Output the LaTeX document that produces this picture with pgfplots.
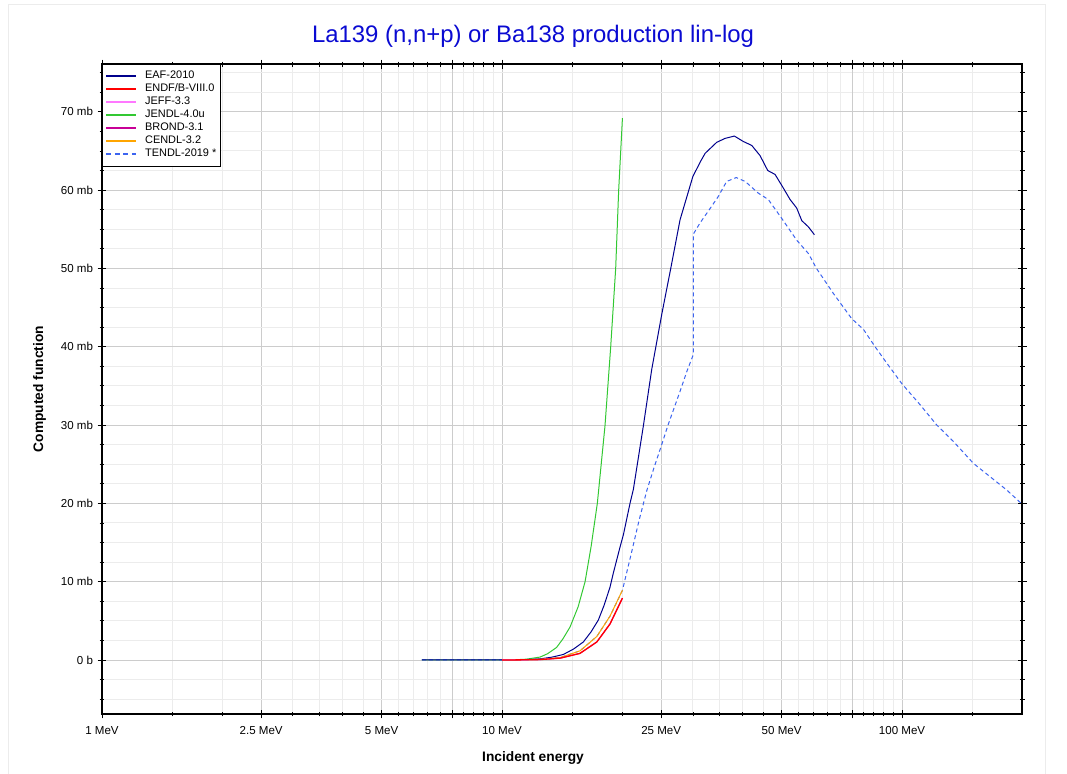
\documentclass[border=0pt]{standalone}
\usepackage{pgfplots}
\pgfplotsset{compat=1.18}
\usepackage{fontspec}
\setmainfont{Liberation Sans}
\definecolor{eafc}{RGB}{0,0,140}
\definecolor{endfc}{RGB}{255,0,0}
\definecolor{jeffc}{RGB}{255,120,255}
\definecolor{jendlc}{RGB}{50,200,50}
\definecolor{brondc}{RGB}{200,0,150}
\definecolor{cendlc}{RGB}{255,165,0}
\definecolor{tendlc}{RGB}{60,100,240}
\definecolor{titlec}{RGB}{10,10,210}
\definecolor{majgrid}{RGB}{204,204,204}
\definecolor{mingrid}{RGB}{236,236,236}
\begin{document}
\begin{tikzpicture}
\useasboundingbox (0,0) rectangle (1067bp,774bp);
\draw[color=mingrid, line width=1bp] (8bp,0bp) -- (8bp,769bp) -- (1045bp,769bp) -- (1045bp,0bp);
\begin{axis}[
  at={(102bp,60bp)}, anchor=south west,
  width=920bp, height=650bp, scale only axis,
  xmode=log, log basis x=10,
  xmin=1, xmax=199.5, ymin=-6.9, ymax=76.1,
  axis line style={black, line width=1.1bp},
  xtick={1,2.5,5,10,25,50,100},
  xticklabels={1 MeV,2.5 MeV,5 MeV,10 MeV,25 MeV,50 MeV,100 MeV},
  extra x ticks={7.5,75},
  extra x tick labels={},
  extra x tick style={grid=major, major grid style={color=majgrid, line width=0.9bp}},
  minor xtick={1.5,2,3,3.5,4,4.5,5.5,6,6.5,7,8,8.5,9,9.5,15,20,30,35,40,45,55,60,65,70,80,85,90,95,150,200},
  ytick={0,10,20,30,40,50,60,70},
  yticklabels={0 b,10 mb,20 mb,30 mb,40 mb,50 mb,60 mb,70 mb},
  minor ytick={-5,-2.5,2.5,5,7.5,12.5,15,17.5,22.5,25,27.5,32.5,35,37.5,42.5,45,47.5,52.5,55,57.5,62.5,65,67.5,72.5,75},
  grid=both,
  major grid style={color=majgrid, line width=0.9bp},
  minor grid style={color=mingrid, line width=0.9bp},
  tick align=center,
  major tick length=9bp, minor tick length=5bp,
  tick style={black, line width=0.8bp},
  ticklabel style={font=\fontsize{11.6}{13}\selectfont},
  xticklabel style={anchor=base, yshift=-16bp},
  yticklabel style={anchor=east, xshift=-1bp},
  title={La139 (n,n+p) or Ba138 production lin-log},
  title style={at={(0.4685,1.0246)}, anchor=base, font=\fontsize{24}{27}\selectfont, color=titlec},
  xlabel={\bfseries Incident energy},
  xlabel style={at={(0.4685,-0.0738)}, anchor=base, font=\fontsize{13.8}{16}\selectfont},
  ylabel={\bfseries Computed function},
  ylabel style={at={(-0.0641,0.5)}, anchor=base, font=\fontsize{13.8}{16}\selectfont},
  legend style={at={(0,1)}, anchor=north west, draw=black, line width=0.8bp,
    font=\fontsize{11}{12}\selectfont, fill=white,
    nodes={inner sep=1.25bp, text height=8bp, text depth=2.5bp},
    row sep=0bp, inner xsep=3bp, inner ysep=5.3bp},
  legend cell align=left,
  legend image code/.code={\draw[#1, line width=2.1bp] (0bp,0bp) -- (30bp,0bp); \path (37bp,0bp);},
]
\addlegendimage{eafc}
\addlegendentry{EAF-2010}
\addlegendimage{endfc}
\addlegendentry{ENDF/B-VIII.0}
\addlegendimage{jeffc}
\addlegendentry{JEFF-3.3}
\addlegendimage{jendlc}
\addlegendentry{JENDL-4.0u}
\addlegendimage{brondc}
\addlegendentry{BROND-3.1}
\addlegendimage{cendlc}
\addlegendentry{CENDL-3.2}
\addlegendimage{tendlc, dash pattern=on 5bp off 3.5bp}
\addlegendentry{TENDL-2019 *}

% JENDL-4.0u
\addplot[jendlc, line width=1bp, forget plot] coordinates {
(6.3,0) (8,0) (10,0.003) (11.0,0.05) (11.5,0.1) (12.45,0.37) (13.0,0.8) (13.69,1.6) (14.2,2.7) (14.79,4.2) (15.5,6.8) (16.13,10.0) (16.7,14.5) (17.31,20.0) (18.09,29.9) (18.69,39.9) (19.24,50.0) (19.57,59.9) (20.0,69.2)
};
% TENDL-2019
\addplot[tendlc, line width=1bp, dash pattern=on 4bp off 3bp, forget plot] coordinates {
(6.3,0) (8,0) (10,0.005) (12,0.08) (13.97,0.3) (15.66,1.16) (17.26,3.0) (18.62,5.6) (20.0,8.9) (21.0,13.4) (22.0,17.8) (23.0,21.6) (24.0,24.6) (25.0,27.3) (26.0,30.0) (27.86,34.3) (29.0,36.9) (30.08,39.0) (30.09,54.4) (31.26,55.8) (32.97,57.5) (34.74,59.2) (36.43,61.1) (38.51,61.6) (40.55,61.1) (43.74,59.6) (46.3,58.8) (50.0,56.4) (54.54,53.6) (58.33,51.9) (61.1,50.0) (67.35,46.8) (74.8,43.6) (80.1,42.2) (85.6,40.0) (91.6,37.9) (99.8,35.3) (110.9,32.6) (122.1,30.0) (134.4,27.9) (150.8,25.1) (166,23.4) (182.7,21.7) (199.5,19.9)
};
% EAF-2010
\addplot[eafc, line width=1bp, forget plot] coordinates {
(6.3,0) (8,0) (10,0.005) (11.5,0.04) (12.45,0.14) (13.3,0.35) (14.23,0.7) (15.1,1.4) (15.97,2.3) (16.7,3.6) (17.41,5.1) (18.0,7.0) (18.62,9.3) (18.98,11.1) (19.72,14.4) (20.11,16.0) (20.89,20.0) (21.3,21.8) (22.56,29.9) (23.67,37.1) (25.07,44.1) (26.41,50.0) (27.86,56.2) (29.98,61.7) (31.3,63.6) (32.2,64.7) (34.41,66.1) (36.1,66.6) (38.09,66.9) (40.12,66.2) (42.1,65.7) (44.16,64.4) (46.15,62.5) (48.14,62.0) (50.3,60.4) (52.48,58.8) (54.54,57.7) (56.14,56.1) (58.33,55.3) (60.38,54.3)
};
% CENDL-3.2
\addplot[cendlc, line width=1bp, forget plot] coordinates {
(10,0) (11,0.02) (12.45,0.08) (13.97,0.3) (15.66,1.16) (17.26,3.0) (18.62,5.6) (20,8.9)
};
% BROND-3.1
\addplot[brondc, line width=1bp, forget plot] coordinates {
(10,0) (11,0.01) (12.45,0.05) (13.97,0.23) (15.66,0.84) (17.26,2.3) (18.62,4.6) (20,7.9)
};
% JEFF-3.3
\addplot[jeffc, line width=1bp, forget plot] coordinates {
(10,0) (11,0.01) (12.45,0.05) (13.97,0.23) (15.66,0.84) (17.26,2.3) (18.62,4.6) (20,7.9)
};
% ENDF/B-VIII.0
\addplot[endfc, line width=1.3bp, forget plot] coordinates {
(10,0) (11,0.01) (12.45,0.05) (13.97,0.23) (15.66,0.84) (17.26,2.3) (18.62,4.6) (20,7.9)
};
\end{axis}
\end{tikzpicture}
\end{document}
